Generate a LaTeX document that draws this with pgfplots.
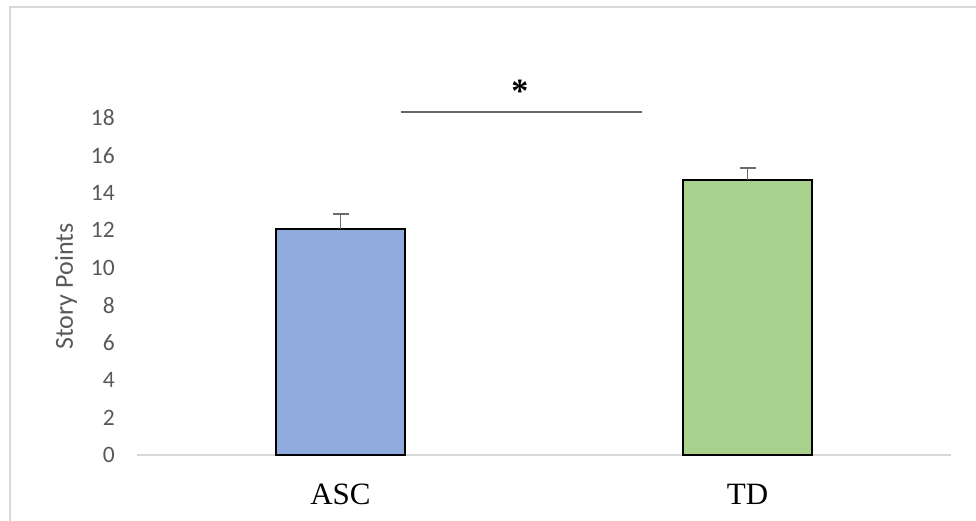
\documentclass[border=0pt]{standalone}
\usepackage{pgfplots}
\pgfplotsset{compat=1.18}
\usepackage{fontspec}
\setmainfont{Liberation Serif}
\newfontfamily\calibri{Carlito}

\definecolor{frameGray}{HTML}{D9D9D9}
\definecolor{labelGray}{HTML}{595959}
\definecolor{errGray}{HTML}{6B6B6B}
\definecolor{ascBlue}{HTML}{8FAADC}
\definecolor{tdGreen}{HTML}{A9D18E}

\begin{document}
\begin{tikzpicture}[x=1bp,y=1bp]
\useasboundingbox (0,0) rectangle (976,521);
% chart frame
\draw[frameGray, line width=1.4bp] (10,-10) |- (990,514);

\begin{axis}[
  at={(137bp,66bp)}, anchor=south west,
  scale only axis, width=814bp, height=337bp,
  xmin=-0.5, xmax=1.5, ymin=0, ymax=18,
  xtick={0,1}, xticklabels={ASC,TD},
  ytick={0,2,...,18},
  /pgf/number format/assume math mode=true,
  axis line style={draw=none},
  tick style={draw=none},
  clip=false,
  yticklabel style={font=\calibri\fontsize{23.5bp}{26bp}\selectfont, text=labelGray, anchor=east, inner sep=0pt, xshift=-22bp},
  xticklabel style={font=\fontsize{31bp}{34bp}\selectfont, text=black, anchor=north, inner sep=0pt, yshift=-25bp},
  ylabel={Story Points},
  ylabel style={font=\calibri\fontsize{26bp}{28bp}\selectfont, text=labelGray, at={(axis description cs:-0.0872,0.5)}, anchor=center, rotate=0},
  ybar, bar width=129bp, bar shift=0pt,
]
% baseline
\draw[frameGray, line width=1.4bp] (axis cs:-0.5,0) -- (axis cs:1.5,0);

\addplot[fill=ascBlue, draw=black, line width=1.3bp,
  error bars/.cd, y dir=plus, y explicit,
  error bar style={errGray, line width=1.4bp},
  error mark options={errGray, line width=1.4bp, mark size=8bp, rotate=90}]
  coordinates {(0,12.07) +- (0,0.80)};
\addplot[fill=tdGreen, draw=black, line width=1.3bp,
  error bars/.cd, y dir=plus, y explicit,
  error bar style={errGray, line width=1.4bp},
  error mark options={errGray, line width=1.4bp, mark size=8bp, rotate=90}]
  coordinates {(1,14.69) +- (0,0.64)};

% significance marker
\draw[black!60, line width=1.8bp] (axis cs:0.1486,18.32) -- (axis cs:0.7408,18.32);
\node[anchor=base, inner sep=0pt, font=\bfseries\fontsize{34bp}{36bp}\selectfont] at (axis cs:0.441,18.85) {*};
\end{axis}
\end{tikzpicture}
\end{document}
